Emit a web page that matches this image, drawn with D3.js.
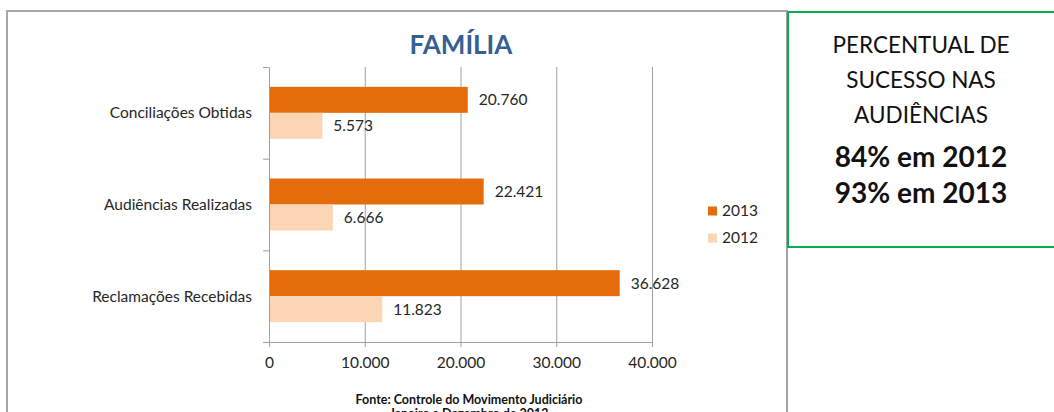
<!DOCTYPE html>
<html>
<head>
<meta charset="utf-8">
<script src="https://cdn.jsdelivr.net/npm/d3@7"></script>
<style>
  html, body { margin: 0; padding: 0; background: #fff; }
  svg { display: block; }
  text { font-family: Lato, "Open Sans", sans-serif; }
</style>
</head>
<body>
<svg id="chart" width="1054" height="412"></svg>
<script>
const categories = ["Conciliações Obtidas", "Audiências Realizadas", "Reclamações Recebidas"];
const series = ["2013", "2012"];
const values2013 = [20760, 22421, 36628];
const values2012 = [5573, 6666, 11823];
const tickValues = [0, 10000, 20000, 30000, 40000];
const boxLines = ["PERCENTUAL DE", "SUCESSO NAS", "AUDIÊNCIAS"];
const boxBoldLines = ["84% em 2012", "93% em 2013"];
const title = "FAMÍLIA";
const sourceLines = ["Fonte: Controle do Movimento Judiciário", "Janeiro a Dezembro de 2013"];

const colors = { "2013": "#E46C0A", "2012": "#FCD5B5" };
const seriesValues = { "2013": values2013, "2012": values2012 };

const locale = d3.formatLocale({ decimal: ",", thousands: ".", grouping: [3], currency: ["R$", ""] });
const fmt = locale.format(",d");

const svg = d3.select("#chart");
const FS = 15.5;

// outer chart border
svg.append("rect").attr("x", 7).attr("y", 11).attr("width", 780).attr("height", 430)
  .attr("fill", "none").attr("stroke", "#a6a6a6").attr("stroke-width", 2);

const pLeft = 269, pRight = 652, pTop = 67, pBottom = 342;

const x = d3.scaleLinear().domain([0, 40000]).range([pLeft, pRight]);
const y = d3.scaleBand().domain(categories).range([pTop, pBottom]);
const ySub = d3.scaleBand().domain(series).range([0, y.bandwidth()]).paddingInner(0).paddingOuter(0.763);

// gridlines
svg.append("g").attr("transform", `translate(0,${pBottom})`)
  .call(d3.axisBottom(x).tickValues(tickValues.slice(1)).tickSize(-(pBottom - pTop)).tickFormat(""))
  .call(g => g.select(".domain").remove())
  .call(g => g.selectAll("line").attr("stroke", "#a0a0a0").attr("stroke-width", 1));

// bars
series.forEach(s => {
  svg.append("g").selectAll("rect").data(categories).join("rect")
    .attr("x", x(0))
    .attr("y", (c) => y(c) + ySub(s))
    .attr("width", (c, i) => x(seriesValues[s][i]) - x(0))
    .attr("height", ySub.bandwidth())
    .attr("fill", colors[s]);
  svg.append("g").selectAll("text").data(categories).join("text")
    .attr("x", (c, i) => x(seriesValues[s][i]) + 11)
    .attr("y", (c) => y(c) + ySub(s) + ySub.bandwidth() / 2)
    .attr("dy", "0.35em")
    .attr("font-size", FS)
    .attr("fill", "#262626")
    .text((c, i) => fmt(seriesValues[s][i]));
});

// x axis
svg.append("g").attr("transform", `translate(0,${pBottom})`)
  .call(d3.axisBottom(x).tickValues(tickValues).tickSize(5).tickSizeOuter(0).tickPadding(10).tickFormat(fmt))
  .call(g => g.select(".domain").attr("stroke", "#a0a0a0"))
  .call(g => g.selectAll("line").attr("stroke", "#a0a0a0"))
  .call(g => g.selectAll("text").attr("font-size", FS).attr("fill", "#262626").attr("font-family", "Lato, sans-serif"));

// y axis (ticks at band boundaries)
const yIdx = d3.scaleLinear().domain([0, categories.length]).range([pTop, pBottom]);
svg.append("g").attr("transform", `translate(${pLeft},0)`)
  .call(d3.axisLeft(yIdx).tickValues(d3.range(categories.length + 1)).tickSize(6).tickSizeOuter(0).tickFormat(""))
  .call(g => g.select(".domain").attr("stroke", "#a0a0a0"))
  .call(g => g.selectAll("line").attr("stroke", "#a0a0a0"));

// category labels
svg.append("g").selectAll("text").data(categories).join("text")
  .attr("x", 252)
  .attr("y", c => y(c) + y.bandwidth() / 2)
  .attr("dy", "0.35em")
  .attr("text-anchor", "end")
  .attr("font-size", FS)
  .attr("fill", "#262626")
  .text(d => d);

// title
svg.append("text").attr("x", 461).attr("y", 45).attr("dy", "0.35em")
  .attr("text-anchor", "middle").attr("font-size", 26).attr("font-weight", "bold")
  .attr("fill", "#376092").attr("font-family", "'Open Sans', Lato, sans-serif")
  .text(title);

// legend
const legend = svg.append("g").selectAll("g").data(series).join("g")
  .attr("transform", (d, i) => `translate(708,${211 + i * 27})`);
legend.append("rect").attr("x", 0).attr("y", -4.5).attr("width", 9).attr("height", 9).attr("fill", d => colors[d]);
legend.append("text").attr("x", 14).attr("dy", "0.35em").attr("font-size", FS).attr("fill", "#262626").text(d => d);

// source text
svg.append("g").selectAll("text").data(sourceLines).join("text")
  .attr("x", 469).attr("y", (d, i) => 400 + i * 14).attr("dy", "0.35em")
  .attr("text-anchor", "middle").attr("font-size", 12.5).attr("font-weight", "bold").attr("fill", "#111")
  .text(d => d);

// green box
svg.append("rect").attr("x", 788).attr("y", 12).attr("width", 280).attr("height", 235)
  .attr("fill", "#fff").attr("stroke", "#00B050").attr("stroke-width", 2);
svg.append("g").selectAll("text").data(boxLines).join("text")
  .attr("x", 921).attr("y", (d, i) => 45 + i * 35).attr("dy", "0.35em")
  .attr("text-anchor", "middle").attr("font-size", 22.5).attr("fill", "#111")
  .text(d => d);
svg.append("g").selectAll("text").data(boxBoldLines).join("text")
  .attr("x", 921).attr("y", (d, i) => 157 + i * 36).attr("dy", "0.35em")
  .attr("text-anchor", "middle").attr("font-size", 28).attr("font-weight", "bold").attr("fill", "#111")
  .text(d => d);
</script>
</body>
</html>
